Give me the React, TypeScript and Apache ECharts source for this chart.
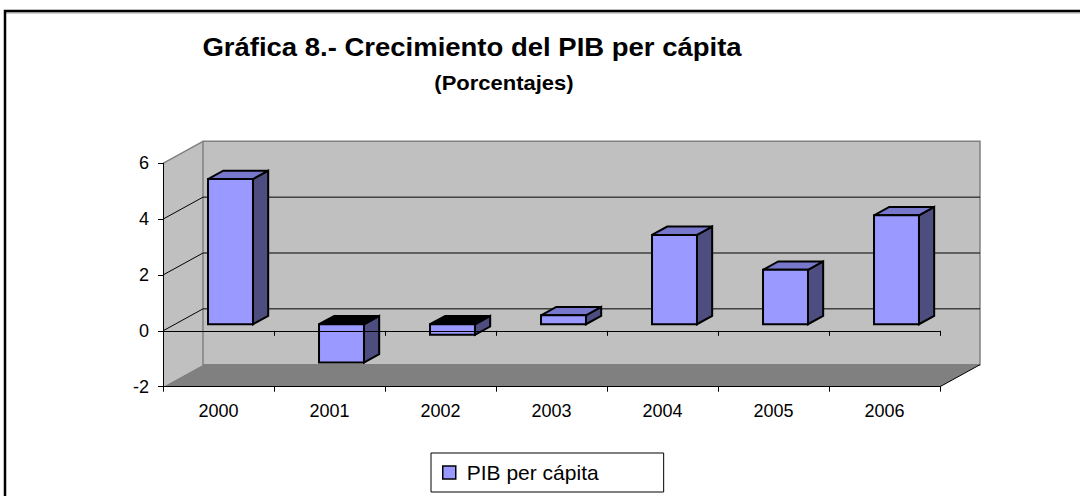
import React, { useEffect, useRef } from "react";
import * as echarts from "echarts";

const categories = ["2000", "2001", "2002", "2003", "2004", "2005", "2006"];
const values = [5.2, -1.37, -0.38, 0.32, 3.2, 1.95, 3.9];
const yTicks = [-2, 0, 2, 4, 6];
const seriesName = "PIB per cápita";
const titleText = "Gráfica 8.- Crecimiento del PIB per cápita";
const subtitleText = "(Porcentajes)";

const FONT = "'Liberation Sans', Arial, sans-serif";
const DX = 40;
const DY = -22;
const F0 = 0.3;
const F1 = 0.68;
const BAR_RATIO = 0.405;

export default function App() {
  const ref = useRef<HTMLDivElement>(null);

  useEffect(() => {
    if (!ref.current) return;
    const chart = echarts.init(ref.current, undefined, { renderer: "svg" });
    const yMin = yTicks[0];
    const yMax = yTicks[yTicks.length - 1];

    const wallsRender = (params: any, api: any) => {
      const c = api.coord([0, 0]);
      const bw = api.size([1, 0])[0];
      const xL = c[0] - bw / 2;
      const xR = xL + bw * categories.length;
      const yv = (v: number) => api.coord([0, v])[1];
      const yT = yv(yMax);
      const yB = yv(yMin);
      const children: any[] = [];
      children.push({
        type: "polygon",
        shape: { points: [[xL, yT], [xL + DX, yT + DY], [xL + DX, yB + DY], [xL, yB]] },
        style: { fill: "#c0c0c0", stroke: "none" },
      });
      children.push({
        type: "rect",
        shape: { x: xL + DX, y: yT + DY, width: xR - xL, height: yB - yT },
        style: { fill: "#c0c0c0", stroke: "#808080", lineWidth: 1.5 },
      });
      children.push({
        type: "line",
        shape: { x1: xL, y1: yT, x2: xL + DX, y2: yT + DY },
        style: { stroke: "#808080", lineWidth: 1.5 },
      });
      yTicks.slice(1, -1).forEach((t) => {
        const y = yv(t);
        children.push({
          type: "polyline",
          shape: { points: [[xL, y], [xL + DX, y + DY], [xR + DX, y + DY]] },
          style: { stroke: "#000", lineWidth: 1, fill: "none" },
        });
      });
      children.push({
        type: "polygon",
        shape: { points: [[xL, yB], [xL + DX, yB + DY], [xR + DX, yB + DY], [xR, yB]] },
        style: { fill: "#808080", stroke: "none" },
      });
      children.push({
        type: "line",
        shape: { x1: xR, y1: yB, x2: xR + DX, y2: yB + DY },
        style: { stroke: "#000", lineWidth: 1 },
      });
      return { type: "group", children };
    };

    const barsRender = (params: any, api: any) => {
      const idx = api.value(0);
      const v = api.value(1);
      const top = api.coord([idx, v]);
      const base = api.coord([idx, 0]);
      const bw = api.size([1, 0])[0];
      const w = bw * BAR_RATIO;
      const ox0 = DX * F0;
      const oy0 = DY * F0;
      const dx = DX * (F1 - F0);
      const dy = DY * (F1 - F0);
      const x0 = top[0] - w / 2 + ox0;
      const x1 = x0 + w;
      const yTop = Math.min(top[1], base[1]) + oy0;
      const yBot = Math.max(top[1], base[1]) + oy0;
      const stroke = { stroke: "#000", lineWidth: 2, lineJoin: "miter" };
      return {
        type: "group",
        children: [
          {
            type: "polygon",
            shape: { points: [[x1, yTop], [x1 + dx, yTop + dy], [x1 + dx, yBot + dy], [x1, yBot]] },
            style: { fill: "#4d4d80", ...stroke },
          },
          {
            type: "polygon",
            shape: { points: [[x0, yTop], [x0 + dx, yTop + dy], [x1 + dx, yTop + dy], [x1, yTop]] },
            style: { fill: v >= 0 ? "#7777cc" : "#000000", ...stroke },
          },
          {
            type: "rect",
            shape: { x: x0, y: yTop, width: x1 - x0, height: yBot - yTop },
            style: { fill: "#9999ff", ...stroke },
          },
        ],
      };
    };

    const axisLabel = { fontFamily: FONT, fontSize: 18, color: "#000" };

    chart.setOption({
      animation: false,
      backgroundColor: "#ffffff",
      grid: { left: 163, top: 163.3, width: 777, height: 223.4, containLabel: false },
      xAxis: [
        {
          type: "category",
          data: categories,
          position: "bottom",
          z: 5,
          axisLine: { show: true, onZero: false, lineStyle: { color: "#000", width: 1 } },
          axisTick: { show: true, length: 5, alignWithLabel: false, lineStyle: { color: "#000" } },
          axisLabel: { ...axisLabel, margin: 15 },
          splitLine: { show: false },
        },
        {
          type: "category",
          data: categories,
          position: "bottom",
          z: 10,
          axisLine: { show: true, onZero: true, lineStyle: { color: "#000", width: 1 } },
          axisTick: { show: true, length: 5, alignWithLabel: false, lineStyle: { color: "#000" } },
          axisLabel: { show: false },
          splitLine: { show: false },
        },
      ],
      yAxis: {
        type: "value",
        min: yMin,
        max: yMax,
        interval: 2,
        z: 5,
        axisLine: { show: true, onZero: false, lineStyle: { color: "#000", width: 1 } },
        axisTick: { show: true, length: 5, lineStyle: { color: "#000" } },
        axisLabel: { ...axisLabel, margin: 14 },
        splitLine: { show: false },
      },
      legend: {
        data: [
          {
            name: seriesName,
            icon: "rect",
            itemStyle: { color: "#9999ff", borderColor: "#000", borderWidth: 1.5 },
          },
        ],
        left: 431,
        top: 453,
        itemWidth: 13,
        itemHeight: 13,
        padding: [9, 65, 9, 11],
        borderColor: "#000",
        borderWidth: 1,
        selectedMode: false,
        textStyle: { fontFamily: FONT, fontSize: 21, color: "#000", padding: [0, 0, 0, 6] },
      },
      graphic: [
        {
          type: "polyline",
          shape: { points: [[5, 500], [5, 11], [1085, 11]] },
          style: { stroke: "#000", lineWidth: 2.5, fill: "none" },
          z: 100,
        },
        {
          type: "line",
          shape: { x1: 6, y1: 13, x2: 1085, y2: 13 },
          style: { stroke: "#a0a0a0", lineWidth: 1 },
          z: 99,
        },
        {
          type: "text",
          x: 472,
          y: 47,
          scaleX: 1.1,
          style: {
            text: titleText,
            font: `bold 25px ${FONT}`,
            fill: "#000",
            textAlign: "center",
            textVerticalAlign: "middle",
          },
          z: 100,
        },
        {
          type: "text",
          x: 504,
          y: 83,
          scaleX: 1.1,
          style: {
            text: subtitleText,
            font: `bold 20px ${FONT}`,
            fill: "#000",
            textAlign: "center",
            textVerticalAlign: "middle",
          },
          z: 100,
        },
      ],
      series: [
        {
          type: "custom",
          name: "_walls",
          z: 1,
          silent: true,
          xAxisIndex: 0,
          yAxisIndex: 0,
          data: [[0, 0]],
          encode: { x: 0, y: 1 },
          renderItem: wallsRender,
        },
        {
          type: "custom",
          name: seriesName,
          z: 3,
          xAxisIndex: 0,
          yAxisIndex: 0,
          itemStyle: { color: "#9999ff" },
          data: values.map((v, i) => [i, v]),
          encode: { x: 0, y: 1 },
          renderItem: barsRender,
        },
      ],
    });

    return () => chart.dispose();
  }, []);

  return (
    <div
      ref={ref}
      style={{ position: "absolute", left: 0, top: 0, width: 1080, height: 496 }}
    />
  );
}
